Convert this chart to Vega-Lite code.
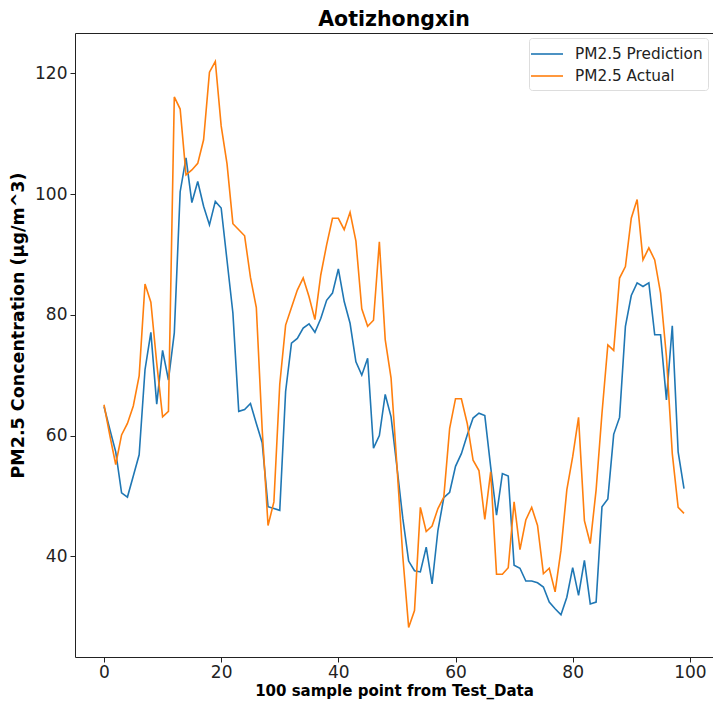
{
  "$schema": "https://vega.github.io/schema/vega-lite/v6.json",
  "autosize": {"type": "none"},
  "width": 638,
  "height": 624,
  "padding": {"left": 75, "top": 33, "right": 0, "bottom": 48},
  "background": "white",
  "title": {"text": "Aotizhongxin", "font": "DejaVu Sans", "fontSize": 20.5, "fontWeight": "bold", "color": "#000", "anchor": "middle", "offset": 3},
  "config": {
    "view": {"stroke": "#222", "strokeWidth": 1},
    "axis": {"grid": false, "domain": false, "tickColor": "#222", "tickSize": 5, "labelFont": "DejaVu Sans", "labelColor": "#222", "titleFont": "DejaVu Sans", "titleColor": "#000", "titleFontWeight": "bold", "titleFontSize": 15}
  },
  "data": {"values": [
    {"i":0,"Prediction":64.8,"Actual":65.1},
    {"i":1,"Prediction":61,"Actual":60},
    {"i":2,"Prediction":57.3,"Actual":55.2},
    {"i":3,"Prediction":50.5,"Actual":60.1},
    {"i":4,"Prediction":49.8,"Actual":62},
    {"i":5,"Prediction":53.3,"Actual":64.9},
    {"i":6,"Prediction":56.8,"Actual":69.9},
    {"i":7,"Prediction":70.9,"Actual":85.1},
    {"i":8,"Prediction":77.1,"Actual":82.1},
    {"i":9,"Prediction":65.2,"Actual":72},
    {"i":10,"Prediction":74.1,"Actual":63.1},
    {"i":11,"Prediction":69.2,"Actual":64},
    {"i":12,"Prediction":77,"Actual":116.1},
    {"i":13,"Prediction":100.4,"Actual":114.1},
    {"i":14,"Prediction":106,"Actual":103.2},
    {"i":15,"Prediction":98.6,"Actual":104},
    {"i":16,"Prediction":102.1,"Actual":105.1},
    {"i":17,"Prediction":98,"Actual":109},
    {"i":18,"Prediction":94.9,"Actual":120.2},
    {"i":19,"Prediction":98.8,"Actual":122},
    {"i":20,"Prediction":97.7,"Actual":111.3},
    {"i":21,"Prediction":89,"Actual":105},
    {"i":22,"Prediction":80.3,"Actual":95.1},
    {"i":23,"Prediction":64,"Actual":94.1},
    {"i":24,"Prediction":64.3,"Actual":93.1},
    {"i":25,"Prediction":65.3,"Actual":86.2},
    {"i":26,"Prediction":62,"Actual":81.2},
    {"i":27,"Prediction":58.8,"Actual":61},
    {"i":28,"Prediction":48.2,"Actual":45.1},
    {"i":29,"Prediction":47.9,"Actual":49},
    {"i":30,"Prediction":47.6,"Actual":68.5},
    {"i":31,"Prediction":67.3,"Actual":78.3},
    {"i":32,"Prediction":75.3,"Actual":81.2},
    {"i":33,"Prediction":76.1,"Actual":84.1},
    {"i":34,"Prediction":77.8,"Actual":86.1},
    {"i":35,"Prediction":78.5,"Actual":83},
    {"i":36,"Prediction":77.1,"Actual":79.2},
    {"i":37,"Prediction":79.4,"Actual":86.6},
    {"i":38,"Prediction":82.4,"Actual":91.6},
    {"i":39,"Prediction":83.6,"Actual":96},
    {"i":40,"Prediction":87.6,"Actual":96},
    {"i":41,"Prediction":82.2,"Actual":94.1},
    {"i":42,"Prediction":78.6,"Actual":97},
    {"i":43,"Prediction":72.2,"Actual":92.2},
    {"i":44,"Prediction":70,"Actual":81},
    {"i":45,"Prediction":72.8,"Actual":78.1},
    {"i":46,"Prediction":57.9,"Actual":79.1},
    {"i":47,"Prediction":60,"Actual":92.1},
    {"i":48,"Prediction":66.8,"Actual":75.9},
    {"i":49,"Prediction":63.1,"Actual":69.5},
    {"i":50,"Prediction":54.8,"Actual":55},
    {"i":51,"Prediction":46.3,"Actual":40},
    {"i":52,"Prediction":39.2,"Actual":28.2},
    {"i":53,"Prediction":37.6,"Actual":31},
    {"i":54,"Prediction":37.4,"Actual":48.1},
    {"i":55,"Prediction":41.5,"Actual":44.1},
    {"i":56,"Prediction":35.4,"Actual":45},
    {"i":57,"Prediction":44.3,"Actual":47.9},
    {"i":58,"Prediction":49.7,"Actual":49.8},
    {"i":59,"Prediction":50.6,"Actual":61.2},
    {"i":60,"Prediction":54.9,"Actual":66.1},
    {"i":61,"Prediction":57,"Actual":66.1},
    {"i":62,"Prediction":60.1,"Actual":62},
    {"i":63,"Prediction":62.9,"Actual":55.9},
    {"i":64,"Prediction":63.7,"Actual":54.2},
    {"i":65,"Prediction":63.3,"Actual":46.1},
    {"i":66,"Prediction":54.8,"Actual":54},
    {"i":67,"Prediction":46.8,"Actual":37},
    {"i":68,"Prediction":53.7,"Actual":37},
    {"i":69,"Prediction":53.3,"Actual":38.1},
    {"i":70,"Prediction":38.5,"Actual":49},
    {"i":71,"Prediction":38,"Actual":41.1},
    {"i":72,"Prediction":35.9,"Actual":46},
    {"i":73,"Prediction":35.9,"Actual":48.1},
    {"i":74,"Prediction":35.6,"Actual":45.1},
    {"i":75,"Prediction":34.9,"Actual":37.1},
    {"i":76,"Prediction":32.4,"Actual":38},
    {"i":77,"Prediction":31.3,"Actual":34.1},
    {"i":78,"Prediction":30.3,"Actual":41},
    {"i":79,"Prediction":33.2,"Actual":51},
    {"i":80,"Prediction":38.1,"Actual":56.5},
    {"i":81,"Prediction":33.5,"Actual":63},
    {"i":82,"Prediction":39.3,"Actual":45.9},
    {"i":83,"Prediction":32.1,"Actual":42.1},
    {"i":84,"Prediction":32.4,"Actual":51},
    {"i":85,"Prediction":48.2,"Actual":63.7},
    {"i":86,"Prediction":49.5,"Actual":75},
    {"i":87,"Prediction":60.2,"Actual":74.1},
    {"i":88,"Prediction":63,"Actual":86.1},
    {"i":89,"Prediction":78.1,"Actual":88},
    {"i":90,"Prediction":83.2,"Actual":96},
    {"i":91,"Prediction":85.3,"Actual":99.1},
    {"i":92,"Prediction":84.7,"Actual":89.1},
    {"i":93,"Prediction":85.3,"Actual":91.1},
    {"i":94,"Prediction":76.7,"Actual":89.1},
    {"i":95,"Prediction":76.7,"Actual":83.6},
    {"i":96,"Prediction":65.9,"Actual":73.1},
    {"i":97,"Prediction":78.2,"Actual":57},
    {"i":98,"Prediction":57.3,"Actual":48.1},
    {"i":99,"Prediction":51.2,"Actual":47.1}
  ]},
  "transform": [{"fold": ["Prediction", "Actual"], "as": ["series", "value"]}],
  "mark": {"type": "line", "strokeWidth": 1.6, "clip": true},
  "encoding": {
    "x": {"field": "i", "type": "quantitative", "scale": {"domain": [-4.95, 103.95], "nice": false, "zero": false},
      "axis": {"values": [0, 20, 40, 60, 80, 100], "title": "100 sample point from Test_Data", "labelFontSize": 17, "labelPadding": 2, "titlePadding": 3}},
    "y": {"field": "value", "type": "quantitative", "scale": {"domain": [23.3, 126.7], "nice": false, "zero": false},
      "axis": {"values": [40, 60, 80, 100, 120], "title": "PM2.5 Concentration (μg/m^3)", "titleFontSize": 17.5, "titleY": 292, "labelFontSize": 17, "labelPadding": 3, "titlePadding": 7}},
    "color": {"field": "series", "type": "nominal",
      "scale": {"domain": ["Prediction", "Actual"], "range": ["#1f77b4", "#ff7f0e"]},
      "legend": {"title": null, "orient": "top-right", "offset": 5, "labelExpr": "'PM2.5 ' + datum.label", "labelFont": "DejaVu Sans", "labelFontSize": 15.3, "labelColor": "#222", "symbolType": "M-1.4,0L1.8,0", "symbolSize": 400, "symbolStrokeWidth": 1.6, "rowPadding": 2, "padding": 5, "strokeColor": "#ddd", "fillColor": "white", "cornerRadius": 3, "labelOffset": 19}},
    "order": {"field": "series", "sort": "descending"}
  }
}
